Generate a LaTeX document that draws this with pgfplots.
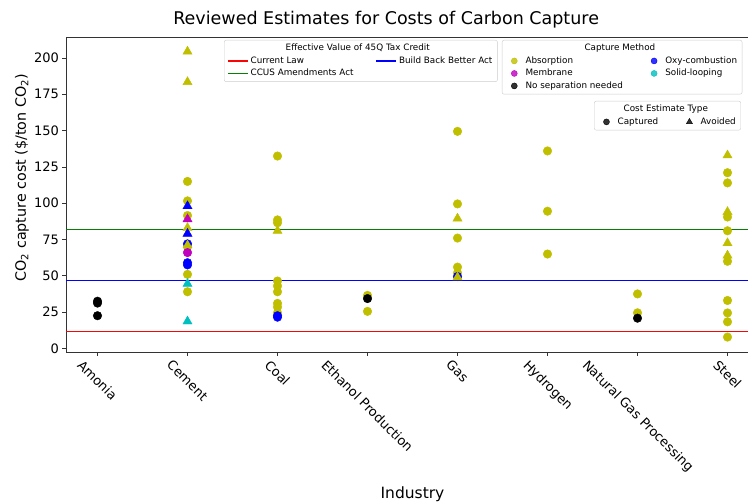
\documentclass[border=0pt]{standalone}
\usepackage{graphicx}
\usepackage{pgfplots}
\pgfplotsset{compat=1.18}
\usepackage{fontspec}
\setmainfont{DejaVu Sans}

\definecolor{mplY}{rgb}{0.75,0.75,0}
\definecolor{mplM}{rgb}{0.75,0,0.75}
\definecolor{mplC}{rgb}{0,0.75,0.75}
\definecolor{mplB}{rgb}{0,0,1}
\definecolor{lawred}{rgb}{0.98,0.02,0.02}
\definecolor{ccusgreen}{rgb}{0.02,0.5,0.02}
\definecolor{spine}{gray}{0.2}

\newcommand{\rl}[1]{\rotatebox{-45}{#1}}

\pgfplotsset{
  chartbox/.style={width=693pt, height=315pt, scale only axis,
    xmin=-0.35, xmax=7.35, ymin=-2.5, ymax=214.5},
  boxlegend/.style={legend columns=2, legend cell align=left,
    legend style={draw=black!20, rounded corners=2pt, fill=white,
      fill opacity=0.8, text opacity=1,
      font=\fontsize{8.8}{10}\selectfont, row sep=0pt,
      nodes={inner sep=2pt, text height=6.5pt, text depth=2pt},
      /tikz/every even column/.append style={column sep=20pt}}},
  capt/.style={only marks, mark=*, mark size=4.3pt, forget plot},
  avoid/.style={only marks, mark=triangle*, mark size=5.3pt, forget plot},
  taxline/.style={line width=1.5pt, forget plot},
  linekey/.style={line width=1.5pt,
    legend image code/.code={\draw[##1] (0pt,0pt) -- (20pt,0pt);}},
  markkey/.style={only marks,
    legend image code/.code={\path (0pt,-1pt) (18pt,1pt);
      \draw[##1] plot coordinates {(9pt,0pt)};}},
}

\begin{document}
\begin{tikzpicture}
\begin{axis}[chartbox, clip=false,
  axis line style={spine, line width=0.8pt},
  tick style={spine, line width=0.8pt},
  tick align=outside, tick pos=left, major tick length=3.5pt,
  xtick={0,1,2,3,4,5,6,7},
  xticklabels={\rl{Amonia},\rl{Cement},\rl{Coal},\rl{Ethanol Production},\rl{Gas},\rl{Hydrogen},\rl{Natural Gas Processing},\rl{Steel}},
  ytick={0,25,50,75,100,125,150,175,200},
  ticklabel style={font=\fontsize{13}{15}\selectfont},
  /pgf/number format/assume math mode=true,
  title={Reviewed Estimates for Costs of Carbon Capture},
  title style={font=\fontsize{17.5}{20}\selectfont, at={(axis description cs:0.462,1)}, anchor=base, yshift=6pt},
  xlabel={Industry},
  xlabel style={font=\fontsize{15.5}{18}\selectfont, at={(axis description cs:0.5,0)}, anchor=base, yshift=-146pt},
  ylabel={CO\textsubscript{2} capture cost (\$/ton CO\textsubscript{2})},
  ylabel style={font=\fontsize{14.3}{16}\selectfont, at={(axis description cs:-0.0635,0.553)}, anchor=center},
]
\coordinate (sw) at (rel axis cs:0,0);
\coordinate (ne) at (rel axis cs:1,1);

% tax credit levels
\addplot[taxline, draw=lawred] coordinates {(-0.35,11.7) (7.35,11.7)};
\addplot[taxline, draw=mplB] coordinates {(-0.35,46.6) (7.35,46.6)};
\addplot[taxline, draw=ccusgreen] coordinates {(-0.35,81.9) (7.35,81.9)};

% captured-cost estimates (circles)
\addplot[capt, mplY] coordinates {
  (1,115) (1,101.6) (1,91.5) (1,70) (1,51) (1,39)
  (2,132.5) (2,88.5) (2,86.5) (2,46.4) (2,43) (2,39) (2,31) (2,28.5) (2,24.5)
  (3,36.5) (3,25.5)
  (4,149.5) (4,99.5) (4,76) (4,56) (4,52)
  (5,136) (5,94.5) (5,65)
  (6,37.5) (6,24.5)
  (7,121) (7,114) (7,90.5) (7,81) (7,60) (7,33) (7,24.4) (7,18.3) (7,7.8)};
\addplot[capt, mplM] coordinates {(1,66)};
\addplot[capt, mplB] coordinates {(1,72) (1,59) (1,57.5) (2,22.5) (2,21.5) (4,49.5)};
\addplot[capt, black] coordinates {(0,32.5) (0,31.2) (0,22.5) (3,34.3) (6,20.8)};

% avoided-cost estimates (triangles)
\addplot[avoid, mplY] coordinates {
  (1,204.5) (1,183.5) (1,83) (1,71) (2,81) (4,89.5) (4,49)
  (7,133) (7,94) (7,72.5) (7,64)};
\addplot[avoid, mplM] coordinates {(1,89)};
\addplot[avoid, mplB] coordinates {(1,98) (1,79)};
\addplot[avoid, mplC] coordinates {(1,44.5) (1,18.6)};
\end{axis}

% tax credit key
\begin{axis}[chartbox, hide axis, boxlegend,
  legend style={at={(axis description cs:0.228,0.9905)}, anchor=north west}]
\addlegendimage{empty legend}
\addlegendentry{\makebox[0pt][l]{\hspace{35pt}Effective Value of 45Q Tax Credit}}
\addlegendimage{empty legend}
\addlegendentry{}
\addlegendimage{linekey, draw=lawred}
\addlegendentry{Current Law}
\addlegendimage{linekey, draw=mplB}
\addlegendentry{Build Back Better Act}
\addlegendimage{linekey, draw=ccusgreen}
\addlegendentry{CCUS Amendments Act}
\end{axis}

% capture method key
\begin{axis}[chartbox, hide axis, boxlegend,
  legend style={at={(axis description cs:0.629,0.9905)}, anchor=north west}]
\addlegendimage{empty legend}
\addlegendentry{\makebox[0pt][l]{\hspace{59pt}Capture Method}}
\addlegendimage{empty legend}
\addlegendentry{}
\addlegendimage{markkey, mark=*, mark size=3pt, mplY}
\addlegendentry{Absorption}
\addlegendimage{markkey, mark=*, mark size=3pt, mplB}
\addlegendentry{Oxy-combustion}
\addlegendimage{markkey, mark=*, mark size=3pt, mplM}
\addlegendentry{Membrane}
\addlegendimage{markkey, mark=*, mark size=3pt, mplC}
\addlegendentry{Solid-looping}
\addlegendimage{markkey, mark=*, mark size=3pt, black}
\addlegendentry{No separation needed}
\end{axis}

% cost estimate type key
\begin{axis}[chartbox, hide axis, boxlegend,
  legend style={at={(axis description cs:0.762,0.797)}, anchor=north west}]
\addlegendimage{empty legend}
\addlegendentry{\makebox[0pt][l]{\hspace{6pt}Cost Estimate Type}}
\addlegendimage{empty legend}
\addlegendentry{}
\addlegendimage{markkey, mark=*, mark size=3pt, black}
\addlegendentry{Captured}
\addlegendimage{markkey, mark=triangle*, mark size=3.5pt, black}
\addlegendentry{Avoided}
\end{axis}

\pgfresetboundingbox
\useasboundingbox ([xshift=-66pt,yshift=-149pt]sw) rectangle ([xshift=-11pt,yshift=37pt]ne);
\end{tikzpicture}
\end{document}
